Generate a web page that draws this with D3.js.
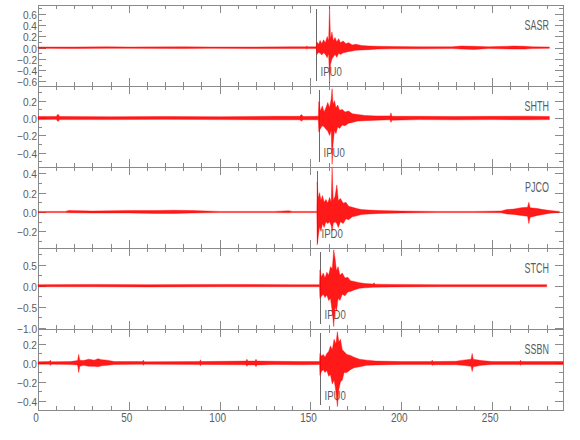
<!DOCTYPE html>
<html>
<head>
<meta charset="utf-8">
<script src="https://cdn.jsdelivr.net/npm/d3@7"></script>
<style>
  body { margin: 0; background: #fff; }
  svg text { font-family: "Liberation Sans", Arial, sans-serif; fill: #5c5c5c; }
</style>
</head>
<body>
<div id="chart"></div>
<script>
// station names, top to bottom
const stations = ["SASR", "SHTH", "PJCO", "STCH", "SSBN"];
// P pick time (s) and pick label per station
const pickTimes = [153.3, 154.5, 153.6, 155.1, 155.1];
const pickLabels = ["IPU0", "IPU0", "IPD0", "IPD0", "IPU0"];
// y-range of each panel
const yDomains = [[-0.682, 0.76], [-0.565, 0.37], [-0.372, 0.465], [-1.026, 0.893], [-0.495, 0.358]];
const yMajor = [0.2, 0.2, 0.2, 0.5, 0.2];
const xTicks = [0, 50, 100, 150, 200, 250];

// trace envelopes: [time s, upper, lower]
const SASR = [[0,.012,-.012],[20,.012,-.015],[38,.015,-.012],[50,.012,-.012],[80,.015,-.015],[95,.012,-.012],[120,.012,-.015],[140,.015,-.015],[147.5,.015,-.015],[148,.03,-.025],[148.5,.015,-.015],[153.2,.015,-.015],[153.5,.10,-.12],[154.5,.06,-.08],[155.3,.13,-.10],[156.2,.07,-.13],[157.2,.14,-.09],[158.2,.09,-.12],[159.2,.2,-.18],[160,.12,-.1],[160.5,.73,-.63],[161,.15,-.3],[161.8,.28,-.2],[162.6,.12,-.16],[163.5,.18,-.12],[164.5,.1,-.17],[165.5,.16,-.1],[166.5,.09,-.12],[168,.12,-.09],[169.5,.07,-.08],[171,.09,-.07],[173,.05,-.06],[175,.06,-.045],[178,.04,-.04],[182,.03,-.035],[187,.025,-.025],[195,.02,-.02],[210,.015,-.02],[228,.015,-.015],[233,.03,-.025],[240,.025,-.03],[248,.015,-.015],[262,.03,-.025],[268,.025,-.025],[272,.015,-.015],[281.5,.012,-.012]];
const SHTH = [[0,.018,-.018],[10,.018,-.015],[11,.045,-.04],[12,.018,-.018],[40,.015,-.018],[70,.018,-.015],[100,.015,-.018],[130,.02,-.02],[144,.02,-.02],[145,.04,-.035],[146,.018,-.02],[154.3,.02,-.02],[154.6,.19,-.16],[155.5,.08,-.12],[156.5,.14,-.09],[157.5,.07,-.1],[158.5,.12,-.13],[159.5,.18,-.15],[160.5,.12,-.2],[161.4,.22,-.14],[161.9,.34,-.535],[162.4,.16,-.3],[163.2,.2,-.14],[164,.12,-.18],[165,.15,-.1],[166,.09,-.12],[167.5,.1,-.08],[169,.07,-.09],[171,.08,-.06],[173,.05,-.05],[176,.04,-.035],[180,.03,-.03],[186,.025,-.025],[193.8,.025,-.02],[194.3,.06,-.05],[194.8,.02,-.025],[210,.02,-.018],[230,.018,-.02],[250,.02,-.018],[270,.022,-.02],[281.5,.018,-.018]];
const PJCO = [[0,.006,-.006],[15,.006,-.006],[17,.015,-.008],[30,.01,-.01],[50,.015,-.01],[65,.015,-.015],[75,.018,-.015],[85,.015,-.01],[100,.006,-.006],[130,.006,-.006],[138,.012,-.008],[140,.006,-.006],[153.5,.006,-.006],[153.7,.31,-.34],[154.3,.14,-.25],[155,.2,-.15],[155.8,.12,-.2],[156.6,.17,-.12],[157.5,.1,-.16],[158.5,.13,-.1],[159.5,.09,-.12],[160.5,.15,-.1],[161.4,.1,-.14],[161.9,.46,-.2],[162.5,.12,-.12],[163.5,.16,-.1],[164.5,.28,-.12],[165.3,.12,-.16],[166.5,.14,-.1],[168,.09,-.12],[169.5,.1,-.07],[171,.06,-.08],[173,.05,-.05],[175.5,.035,-.04],[178,.025,-.025],[182,.02,-.02],[188,.015,-.015],[200,.01,-.01],[220,.006,-.006],[240,.006,-.006],[255,.01,-.008],[258,.025,-.02],[262,.03,-.025],[266,.045,-.035],[269.5,.05,-.045],[270.2,.1,-.12],[270.9,.045,-.055],[275,.035,-.035],[278,.025,-.025],[282,.015,-.012],[287,.006,-.006]];
const STCH = [[0,.025,-.025],[30,.03,-.025],[60,.025,-.03],[100,.03,-.025],[140,.025,-.025],[155,.025,-.025],[155.2,.37,-.3],[156,.2,-.25],[157,.3,-.2],[158,.18,-.28],[159,.32,-.22],[160,.25,-.35],[161,.45,-.3],[162,.4,-.62],[162.8,.85,-.97],[163.5,.65,-.5],[164.3,.35,-.6],[165.2,.45,-.3],[166.2,.25,-.35],[167.5,.3,-.2],[169,.18,-.24],[170.5,.2,-.15],[172,.12,-.14],[174,.1,-.1],[177,.07,-.06],[180,.05,-.05],[184.5,.04,-.035],[185,.07,-.035],[185.5,.035,-.035],[195,.03,-.03],[220,.025,-.025],[250,.025,-.025],[280,.025,-.025]];
const SSBN = [[0,.012,-.012],[6.3,.015,-.012],[6.8,.03,-.025],[7.3,.012,-.012],[18,.015,-.015],[21.8,.025,-.02],[22.4,.09,-.1],[23,.03,-.035],[25,.025,-.025],[28,.04,-.035],[31,.03,-.035],[33,.045,-.04],[35,.035,-.03],[38,.03,-.025],[42,.015,-.015],[57.5,.015,-.012],[58,.03,-.025],[58.5,.012,-.012],[89,.015,-.015],[89.4,.035,-.03],[89.8,.015,-.015],[114.5,.02,-.018],[115,.04,-.035],[115.5,.02,-.02],[119.5,.02,-.02],[120,.04,-.04],[120.5,.02,-.02],[130,.018,-.015],[145,.015,-.018],[155,.015,-.015],[155.2,.1,-.13],[156,.07,-.09],[157,.09,-.07],[158,.06,-.1],[159,.1,-.08],[160,.12,-.14],[161,.18,-.12],[162,.14,-.22],[163,.25,-.18],[164,.2,-.3],[164.8,.33,-.46],[165.6,.22,-.28],[166.5,.25,-.2],[167.5,.14,-.18],[168.5,.12,-.1],[170,.09,-.1],[172,.08,-.07],[174,.06,-.05],[177,.04,-.04],[181,.03,-.025],[186,.02,-.02],[200,.015,-.015],[216.5,.015,-.015],[217,.03,-.025],[217.5,.015,-.018],[230,.018,-.018],[234,.03,-.025],[238.4,.04,-.035],[239,.1,-.09],[239.6,.04,-.04],[244,.025,-.025],[250,.015,-.015],[265.2,.015,-.015],[265.6,.03,-.025],[266,.015,-.015],[289,.015,-.015]];
const traces = [SASR, SHTH, PJCO, STCH, SSBN];

const width = 580, height = 440;
const left = 38, right = 563, top0 = 5, panelH = 81;
const axisColor = "#8a8a8a";

const svg = d3.select("#chart").append("svg")
  .attr("width", width)
  .attr("height", height);

const x = d3.scaleLinear().domain([0, 289]).range([left, right]);
const fmt = d3.format(".1f");

// narrow text, like the plotting package's stroke font
function label(g, px, py, str, anchor, size, sx) {
  return g.append("text")
    .attr("transform", `translate(${px},${py}) scale(${sx},1)`)
    .attr("text-anchor", anchor)
    .style("font-size", size + "px")
    .text(str);
}

stations.forEach((name, i) => {
  const y0 = top0 + i * panelH, y1 = y0 + panelH;
  const y = d3.scaleLinear().domain(yDomains[i]).range([y1, y0]);
  const g = svg.append("g");

  // frame
  g.append("rect")
    .attr("x", left + 0.5).attr("y", y0 + 0.5)
    .attr("width", right - left).attr("height", panelH)
    .attr("fill", "none").attr("stroke", axisColor).attr("stroke-width", 1);

  // x ticks on top and bottom of each panel
  d3.range(0, 290, 10).forEach(t => {
    const len = t % 50 === 0 ? 8 : 4;
    const px = Math.round(x(t)) + 0.5;
    g.append("line").attr("x1", px).attr("x2", px).attr("y1", y0).attr("y2", y0 + len).attr("stroke", axisColor);
    g.append("line").attr("x1", px).attr("x2", px).attr("y1", y1).attr("y2", y1 - len).attr("stroke", axisColor);
  });

  // y ticks, left and right
  const step = yMajor[i] / 2;
  const [lo, hi] = yDomains[i];
  d3.range(Math.ceil(lo / step - 1e-6), Math.floor(hi / step + 1e-6) + 1).forEach(k => {
    const v = k * step;
    const major = k % 2 === 0;
    const len = major ? 8 : 4;
    const py = Math.round(y(v)) + 0.5;
    g.append("line").attr("x1", left).attr("x2", left + len).attr("y1", py).attr("y2", py).attr("stroke", axisColor);
    g.append("line").attr("x1", right).attr("x2", right - len).attr("y1", py).attr("y2", py).attr("stroke", axisColor);
    if (major) label(g, left - 1, py + 4, fmt(v), "end", 11, 0.92);
  });

  // station name
  label(g, 549, y0 + 24.5, name, "end", 14, 0.64);

  // P pick line and label
  const xp = Math.round(x(pickTimes[i])) + 0.5;
  g.append("line")
    .attr("x1", xp).attr("x2", xp)
    .attr("y1", y0 + 4).attr("y2", y1 - 5)
    .attr("stroke", "#6a6a6a").attr("stroke-width", 1);
  label(g, xp + 4, y1 - 10, pickLabels[i], "start", 13, 0.74);

  // seismogram envelope
  const area = d3.area()
    .x(d => x(d[0]))
    .y0(d => y(d[2]))
    .y1(d => y(d[1]));
  g.append("path")
    .datum(traces[i])
    .attr("d", area)
    .attr("fill", "#ff0000")
    .attr("fill-opacity", 0.9)
    .attr("stroke", "#ff0000")
    .attr("stroke-width", 0.4);
});

// bottom axis labels
const gx = svg.append("g");
xTicks.forEach(d => label(gx, x(d) - 2, 422, d, "middle", 12.5, 0.8));
</script>
</body>
</html>
